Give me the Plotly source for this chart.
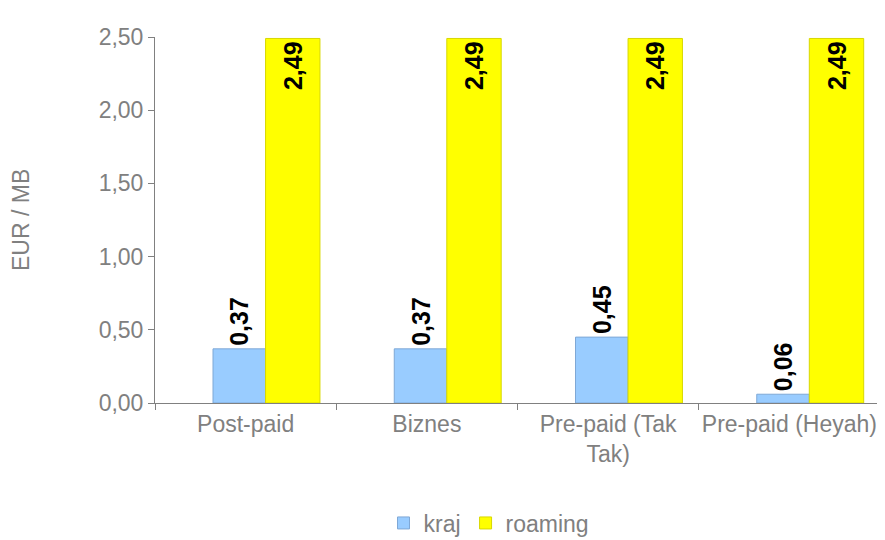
import plotly.graph_objects as go

categories = ["Post-paid", "Biznes", "Pre-paid (Tak<br>Tak)", "Pre-paid (Heyah)"]
kraj = [0.37, 0.37, 0.45, 0.06]
roaming = [2.49, 2.49, 2.49, 2.49]
y_ticks = [0, 0.5, 1.0, 1.5, 2.0, 2.5]

GRAY = "#808080"
FONT = "Liberation Sans, Arial, sans-serif"

W, H = 877, 532
L, R, T, B = 147, 5, 29, 137

def fmt(v):
    return f"{v:.2f}".replace(".", ",")

fig = go.Figure()
fig.add_trace(go.Bar(
    x=categories, y=kraj, name="kraj",
    marker=dict(color="#99CCFF", line=dict(color="#7FA8D6", width=1)),
    width=0.29, offset=-0.18,
    text=[fmt(v) for v in kraj], textposition="outside", textangle=-90,
    textfont=dict(family=FONT, size=25, color="black", weight="bold"),
    constraintext="none", cliponaxis=False,
))
fig.add_trace(go.Bar(
    x=categories, y=roaming, name="roaming",
    marker=dict(color="#FFFF00", line=dict(color="#D8D800", width=1)),
    width=0.30, offset=0.11,
    text=[fmt(v) for v in roaming], textposition="inside", insidetextanchor="end",
    textangle=-90,
    textfont=dict(family=FONT, size=25, color="black", weight="bold"),
    constraintext="none", cliponaxis=False,
))

plot_w = W - L - R
plot_h = H - T - B

fig.update_layout(
    width=W, height=H,
    margin=dict(l=L, r=R, t=T, b=B, autoexpand=False),
    paper_bgcolor="white", plot_bgcolor="white",
    font=dict(family=FONT, size=23, color=GRAY),
    separators=", ",
    barmode="group",
    showlegend=True,
    legend=dict(orientation="h", xref="container", x=(489 - 8) / W, xanchor="center",
                yref="container", y=(H - (523 - 8)) / H, yanchor="middle",
                font=dict(size=23, color=GRAY), itemwidth=30, traceorder="normal"),
    xaxis=dict(showline=True, linecolor=GRAY, linewidth=1, ticks="outside",
               tickson="boundaries", ticklen=6, tickcolor=GRAY, tickangle=0,
               automargin=False,
               tickfont=dict(size=23, color=GRAY), showgrid=False),
    yaxis=dict(range=[0, 2.5], showline=True, linecolor=GRAY, linewidth=1,
               ticks="outside", ticklen=6, tickcolor=GRAY, automargin=False,
               tickvals=y_ticks, ticktext=[fmt(v) for v in y_ticks],
               tickfont=dict(size=23, color=GRAY), showgrid=False, zeroline=False),
    annotations=[dict(text="EUR / MB", x=(13 - L) / plot_w, xref="paper", xanchor="center",
                      y=0.5, yref="paper", yanchor="middle", textangle=-90,
                      showarrow=False, font=dict(size=23, color=GRAY))],
)

fig.write_html("out.html")
